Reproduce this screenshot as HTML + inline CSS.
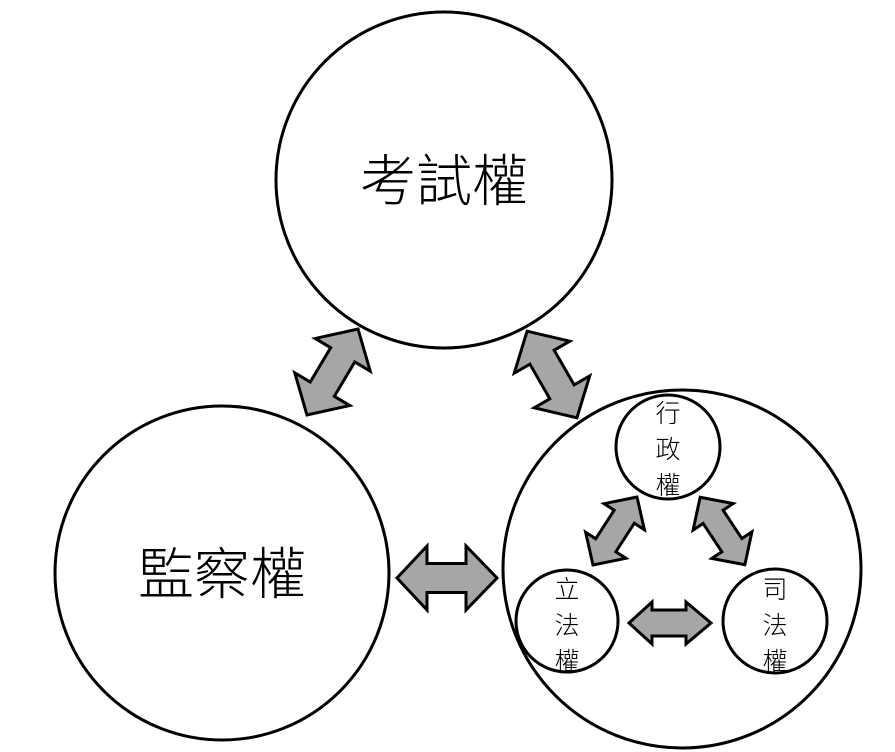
<!DOCTYPE html>
<html><head><meta charset="utf-8"><style>
html,body{margin:0;padding:0;background:#fff;}
svg{display:block;}
text{font-family:"Liberation Sans","Noto Sans CJK TC",sans-serif;font-weight:300;fill:#000;}
</style></head><body>
<svg width="895" height="752" viewBox="0 0 895 752" xmlns="http://www.w3.org/2000/svg">
<g fill="#fff" stroke="#000" stroke-width="3">
<circle cx="444" cy="180" r="168"/>
<circle cx="222" cy="573" r="167"/>
<circle cx="682" cy="569" r="179"/>
<circle cx="668" cy="447" r="52"/>
<circle cx="567" cy="621" r="51"/>
<circle cx="775" cy="621" r="52"/>
</g>
<g fill="#a6a6a6" stroke="#000" stroke-width="3" stroke-linejoin="miter">
<polygon transform="translate(332.5,372) rotate(-59.3)" points="-50,0 -20,-32 -20,-14 20,-14 20,-32 50,0 20,32 20,14 -20,14 -20,32"/>
<polygon transform="translate(552,374.5) rotate(60.1)" points="-50,0 -20,-32 -20,-14 20,-14 20,-32 50,0 20,32 20,14 -20,14 -20,32"/>
<polygon transform="translate(447,578)" points="-50,0 -20,-32 -20,-14.5 19,-14.5 19,-32 50,0 19,32 19,14.5 -20,14.5 -20,32"/>
<polygon transform="translate(615,531) rotate(122.9)" points="-40.5,0 -17,-24 -17,-12 17,-12 17,-24 40.5,0 17,24 17,12 -17,12 -17,24"/>
<polygon transform="translate(722.5,531) rotate(56.5)" points="-40.5,0 -17,-24 -17,-12 17,-12 17,-24 40.5,0 17,24 17,12 -17,12 -17,24"/>
<polygon transform="translate(670,623)" points="-41,0 -18,-21 -18,-13 16,-13 16,-21 41,0 16,21 16,13 -18,13 -18,21"/>
</g>
<g text-anchor="middle">
<text x="444" y="201" font-size="56">考試權</text>
<text x="222" y="594" font-size="56">監察權</text>
<g font-size="25">
<text x="668" y="422">行</text>
<text x="668" y="458">政</text>
<text x="668" y="494">權</text>
<text x="567" y="598">立</text>
<text x="567" y="634">法</text>
<text x="567" y="670">權</text>
<text x="775" y="598">司</text>
<text x="775" y="634">法</text>
<text x="775" y="670">權</text>
</g>
</g>
</svg>
</body></html>
